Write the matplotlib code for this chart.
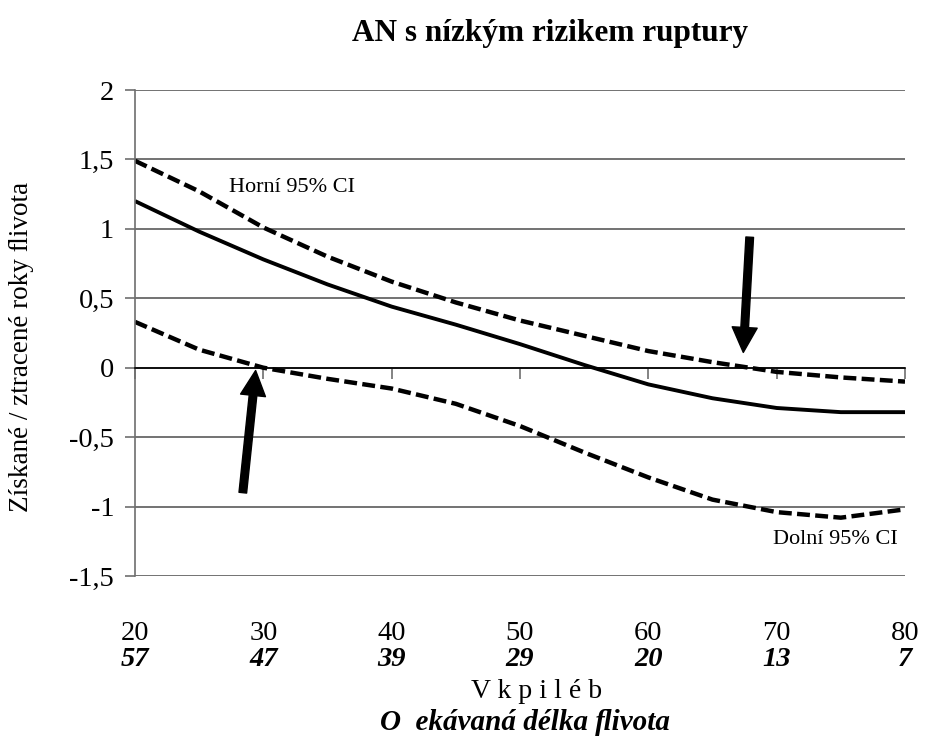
import matplotlib
matplotlib.use('Agg')
import matplotlib.pyplot as plt
import matplotlib.transforms as mtransforms
import numpy as np

plt.rcParams['font.family'] = ['Liberation Serif', 'DejaVu Serif']

# age at treatment and the matching life expectancy
age = [20, 25, 30, 35, 40, 45, 50, 55, 60, 65, 70, 75, 80]
tick_ages = [20, 30, 40, 50, 60, 70, 80]
life_exp = ['57', '47', '39', '29', '20', '13', '7']

# gained / lost life years
mean = [1.20, 0.98, 0.78, 0.60, 0.44, 0.31, 0.17, 0.02, -0.12, -0.22, -0.29, -0.32, -0.32]
upper = [1.49, 1.27, 1.01, 0.80, 0.62, 0.47, 0.34, 0.23, 0.12, 0.04, -0.03, -0.07, -0.10]
lower = [0.33, 0.13, 0.00, -0.08, -0.15, -0.26, -0.42, -0.61, -0.79, -0.95, -1.04, -1.08, -1.02]

y_ticks = [2, 1.5, 1, 0.5, 0, -0.5, -1, -1.5]

fig = plt.figure(figsize=(9.34, 7.42), dpi=100)
ax = fig.add_axes([135 / 934, 1 - 576 / 742, 770 / 934, 486 / 742])

ax.set_xlim(20, 80)
ax.set_ylim(-1.5, 2)
ax.set_yticks(y_ticks)
ax.set_yticklabels([('%g' % v).replace('.', ',') for v in y_ticks], fontsize=20.5)
ax.yaxis.grid(True, color='#5a5a5a', lw=1.2)
ax.set_axisbelow(True)

for s in ['top', 'right']:
    ax.spines[s].set_visible(False)
ax.spines['left'].set_color('#6e6e6e')
ax.spines['left'].set_linewidth(1.2)
ax.spines['bottom'].set_position(('data', 0))
ax.spines['bottom'].set_color('black')
ax.spines['bottom'].set_linewidth(1.2)
ax.tick_params(axis='y', direction='out', length=7, color='#6e6e6e', width=1.2, pad=8)
ax.set_xticks(tick_ages)
ax.tick_params(axis='x', direction='out', length=8, color='#6e6e6e', width=1.2, labelbottom=False)

dash = (0, (2.9, 1.2))
ax.plot(age, upper, color='black', lw=3.2, linestyle=dash)
ax.plot(age, lower, color='black', lw=3.2, linestyle=dash)
ax.plot(age, mean, color='black', lw=2.8, solid_capstyle='butt')

ax.text(32.2, 1.30, 'Horní 95% CI', fontsize=16, ha='center', va='center')
ax.text(74.6, -1.24, 'Dolní 95% CI', fontsize=16, ha='center', va='center')

arrow = dict(facecolor='black', edgecolor='black', width=5.5, headwidth=18, headlength=18, shrink=0)
ax.annotate('', xy=(67.4, 0.11), xytext=(67.9, 0.94), arrowprops=arrow)
ax.annotate('', xy=(29.4, -0.02), xytext=(28.4, -0.90), arrowprops=arrow)

# age labels and life expectancy labels under the plot area
trans = mtransforms.blended_transform_factory(ax.transData, ax.transAxes)
for a, le in zip(tick_ages, life_exp):
    ax.text(a, -0.118, str(a), transform=trans, ha='center', va='center', fontsize=20.5)
    ax.text(a, -0.172, le, transform=trans, ha='center', va='center', fontsize=20.5,
            fontweight='bold', fontstyle='italic')

fig.text(537 / 934, 1 - 692 / 742, 'V k p i l é b', ha='center', va='center', fontsize=20)
fig.text(525 / 934, 1 - 722 / 742, 'O  ekávaná délka \ufb02ivota', ha='center', va='center',
         fontsize=21, fontweight='bold', fontstyle='italic')
fig.text(22 / 934, 1 - 347 / 742, 'Získané / ztracené roky \ufb02ivota', rotation=90,
         ha='center', va='center', fontsize=19.5)
fig.text(550 / 934, 1 - 34 / 742, 'AN s nízkým rizikem ruptury', ha='center', va='center',
         fontsize=22.5, fontweight='bold')

fig.savefig('out.png', dpi=100, facecolor='white')
